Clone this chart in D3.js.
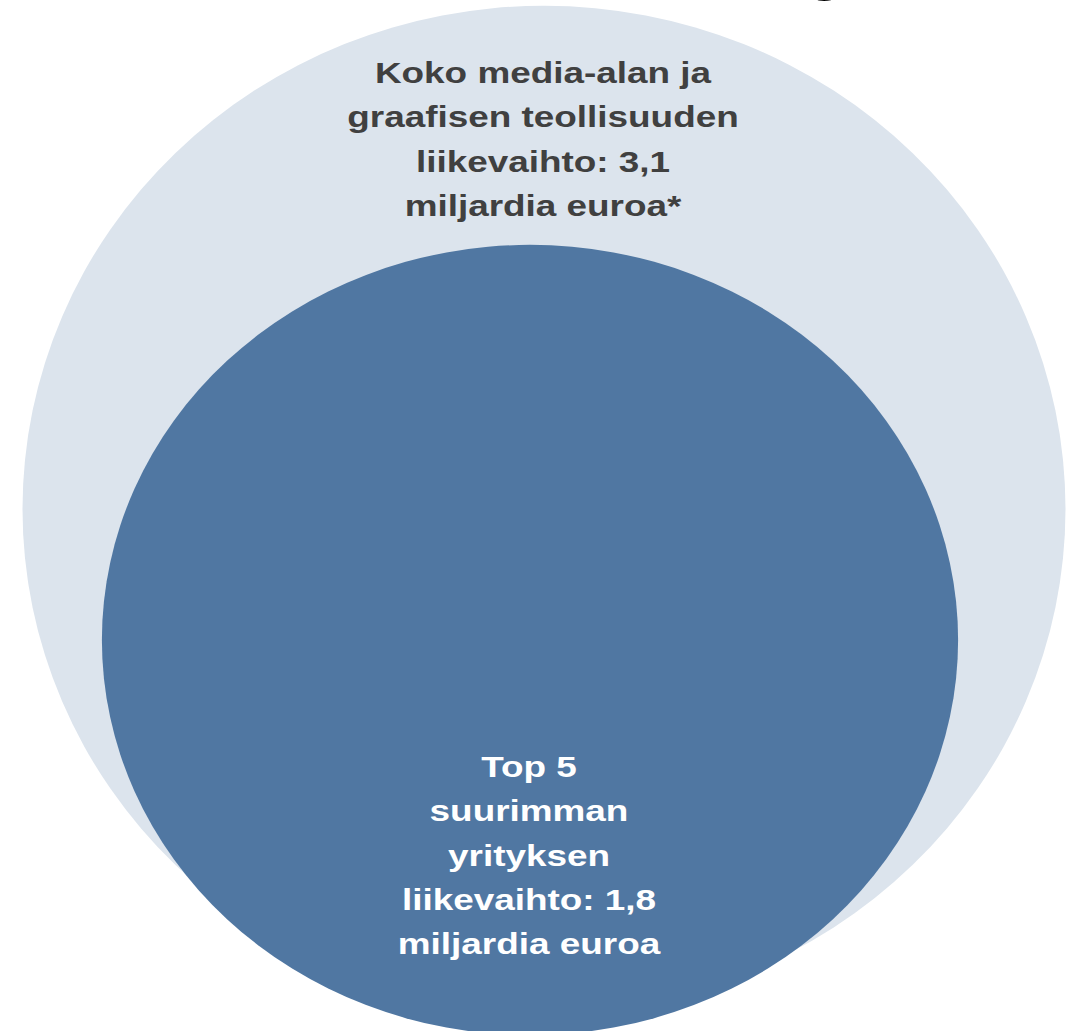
<!DOCTYPE html>
<html>
<head>
<meta charset="utf-8">
<script src="https://cdn.jsdelivr.net/npm/d3@7"></script>
<style>
  body { margin: 0; background: #fff; }
  text { font-family: "Liberation Sans", Arial, sans-serif; font-weight: bold; }
</style>
</head>
<body>
<script>
const width = 1081;
const height = 1031;

// data
const groups = ["Koko media-ala", "Top 5"];
const values = [3.1, 1.8]; // miljardia euroa
const labels = [
  ["Koko media-alan ja", "graafisen teollisuuden", "liikevaihto: 3,1", "miljardia euroa*"],
  ["Top 5", "suurimman", "yrityksen", "liikevaihto: 1,8", "miljardia euroa"]
];

// layout, per group
const centers = [[544, 509], [530, 640]];
const aspect = [0.965, 0.923];
const labelTop = [83, 777];
const fills = ["#dce4ed", "#5077a2"];
const textColors = ["#404040", "#ffffff"];
const stretch = 1.23; // the source picture is stretched sideways

// radius from value (the picture is not strictly area-true)
const r = d3.scalePow().exponent(0.363)
  .domain([0, d3.max(values)])
  .range([0, 521.5]);

const svg = d3.select("body").append("svg")
  .attr("width", width)
  .attr("height", height)
  .attr("viewBox", `0 0 ${width} ${height}`);

// cut-off title fragment above the frame
svg.append("text")
  .attr("x", 825)
  .attr("y", -12)
  .attr("text-anchor", "middle")
  .attr("font-size", 62)
  .attr("fill", "#000")
  .text("g");

svg.selectAll("ellipse")
  .data(values)
  .enter()
  .append("ellipse")
  .attr("cx", (d, i) => centers[i][0])
  .attr("cy", (d, i) => centers[i][1])
  .attr("rx", (d) => r(d))
  .attr("ry", (d, i) => r(d) * aspect[i])
  .style("fill", (d, i) => fills[i]);

groups.forEach((g, i) => {
  const t = svg.append("text")
    .attr("transform", `translate(${centers[i][0] - 1},0) scale(${stretch},1)`)
    .attr("text-anchor", "middle")
    .attr("font-size", 30)
    .attr("fill", textColors[i]);
  labels[i].forEach((line, j) => {
    t.append("tspan")
      .attr("x", 0)
      .attr("y", labelTop[i] + j * 44.3)
      .text(line);
  });
});
</script>
</body>
</html>
